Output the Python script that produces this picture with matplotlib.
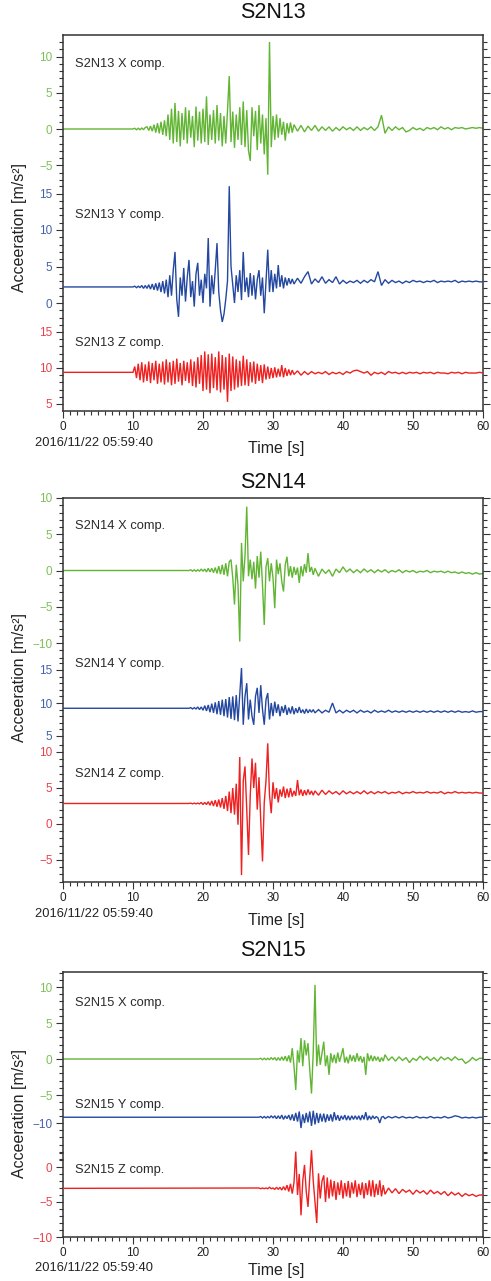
import matplotlib
matplotlib.use('Agg')
import matplotlib.pyplot as plt
import numpy as np
from matplotlib.ticker import FixedLocator

plt.rcParams['font.family'] = ['Liberation Sans', 'DejaVu Sans']

# ---------------- data ----------------
stations = ['S2N13', 'S2N14', 'S2N15']
components = ['X', 'Y', 'Z']
start_time = '2016/11/22 05:59:40'
x_ticks = [0, 10, 20, 30, 40, 50, 60]
dt_fast = 0.25
dt_slow = 0.5

# S2N13 (fast part starts 10.0 s, coda starts 33.0 s)
s13_t_fast, s13_t_slow = 10.0, 33.0
s13_x_base = 0.0
s13_x_fast = [0, 0.1, -0.1, 0.1, -0.1, 0.15, -0.1, 0.2,
              0.3, -0.2, 0.4, -0.3, 0.6, -0.5, 0.8, -0.6,
              1.0, -0.8, 1.2, -1.0, 2.0, -1.5, 2.8, -2.0,
              3.6, -1.8, 2.5, -2.4, 2.2, -1.5, 3.0, -2.0,
              2.6, -1.2, 1.8, -2.5, 3.1, -1.6, 2.4, -2.0,
              2.8, -1.8, 4.5, -2.2, 2.0, -1.5, 2.6, -2.0,
              3.3, -1.6, 2.2, -2.4, 1.8, -2.0, 2.5, 7.3,
              -1.8, 2.4, -2.6, 2.0, -1.5, 3.0, -2.2, 3.8,
              -2.5, 2.6, -3.0, -4.4, 3.0, -1.0, 2.5, -2.9,
              3.3, -2.0, 2.0, -3.5, 1.5, -6.3, 12.0, -2.5,
              1.8, -1.5, 2.0, -1.2, 1.5, -0.8, 1.0, -1.6,
              0.8, -0.6, 0.9, -0.5]
s13_x_slow = [0.6, -0.3, 0.5, -0.4, 0.4, -0.2, 0.5, -0.3,
              0.3, -0.2, 0.3, -0.3, 0.2, -0.2, 0.3, -0.1,
              0.2, -0.2, 0.3, -0.2, 0.2, -0.1, 0.3, -0.2,
              0.3, 1.9, -0.6, 0.3, -0.2, 0.3, -0.1, 0.2,
              -0.4, -0.2, 0.2, -0.1, 0.1, -0.2, 0.2, 0.0,
              0.2, -0.1, 0.3, 0.0, 0.2, -0.1, 0.2, 0.1,
              0.2, 0.0, 0.1, 0.2, 0.1, 0.2, 0.1]
s13_y_base = 2.2
s13_y_fast = [2.2, 2.3, 2.1, 2.3, 2.1, 2.4, 2.0, 2.4,
              2.0, 2.5, 1.9, 2.6, 1.8, 2.7, 1.7, 2.8,
              1.5, 3.0, 1.3, 3.2, 0.8, 3.8, 1.0, 4.5,
              7.0, 0.5, -1.9, 3.5, 1.0, 4.8, 0.2, 3.5,
              5.9, 0.8, 3.0, -0.5, 4.0, 5.5, 1.0, 3.2,
              0.0, 4.0, 2.0, 8.9, -0.5, 3.8, 1.2, 4.5,
              8.2, 1.5, -1.0, -2.6, -1.5, 0.5, 3.0, 16.0,
              5.0, 2.5, 0.0, 3.8, 1.5, 4.5, 0.4, 7.0,
              1.5, 3.5, 0.8, 4.1, 1.0, 3.8, 0.5, 3.2,
              4.5, 1.0, 3.5, -1.4, 3.0, 7.3, 1.5, 4.5,
              1.5, 4.0, 2.0, 5.2, 2.2, 3.8, 2.0, 3.5,
              2.4, 3.4, 2.6, 3.3]
s13_y_slow = [2.6, 3.4, 2.7, 3.6, 4.3, 2.6, 3.3, 2.8,
              3.6, 2.7, 3.2, 2.8, 3.6, 2.6, 3.1, 2.7,
              3.0, 2.8, 3.1, 2.7, 3.1, 2.8, 3.2, 2.9,
              4.3, 2.4, 3.2, 2.7, 3.1, 2.8, 3.0, 2.7,
              3.0, 2.8, 3.1, 2.9, 3.0, 2.8, 3.0, 2.9,
              3.1, 2.8, 3.0, 2.9, 3.0, 2.9, 3.1, 2.8,
              3.0, 2.9, 3.0, 2.9, 3.0, 2.9, 2.9]
s13_z_base = 9.4
s13_z_fast = [9.4, 10.2, 8.6, 10.6, 8.3, 10.8, 8.0, 10.5,
              8.2, 10.9, 7.9, 10.7, 8.3, 11.0, 7.8, 10.6,
              8.0, 10.9, 7.7, 11.2, 8.0, 10.8, 7.6, 11.0,
              7.8, 11.3, 8.1, 10.7, 7.6, 11.0, 8.2, 10.8,
              7.9, 11.2, 7.5, 10.9, 7.3, 11.5, 7.8, 11.8,
              6.8, 12.3, 7.0, 11.9, 6.5, 12.0, 7.2, 11.5,
              6.9, 12.3, 6.6, 11.8, 7.0, 11.5, 5.3, 12.0,
              6.8, 11.6, 7.0, 11.2, 7.3, 11.0, 7.5, 11.7,
              7.6, 11.2, 7.5, 10.8, 8.0, 10.9, 7.8, 10.6,
              8.2, 10.4, 7.9, 10.5, 8.4, 10.2, 8.5, 10.0,
              8.6, 10.1, 8.7, 9.9, 8.8, 10.4, 8.7, 10.0,
              8.9, 9.8, 9.0, 9.7]
s13_z_slow = [9.1, 9.6, 9.0, 9.5, 9.1, 9.5, 9.2, 9.4,
              9.2, 9.5, 9.1, 9.4, 9.2, 9.4, 9.1, 9.5,
              9.3, 9.6, 9.7, 9.5, 9.3, 9.5, 9.0, 9.4,
              9.2, 9.4, 9.1, 9.5, 9.3, 9.4, 9.2, 9.4,
              9.2, 9.4, 9.3, 9.4, 9.2, 9.4, 9.3, 9.4,
              9.2, 9.4, 9.3, 9.3, 9.2, 9.4, 9.3, 9.4,
              9.2, 9.4, 9.3, 9.3, 9.3, 9.4, 9.3]

# S2N14 (fast part starts 18.0 s, coda starts 36.0 s)
s14_t_fast, s14_t_slow = 18.0, 36.0
s14_x_base = 0.0
s14_x_fast = [0.0, 0.1, -0.1, 0.1, -0.1, 0.1, -0.1, 0.2,
              -0.1, 0.2, -0.2, 0.3, -0.2, 0.3, -0.3, 0.4,
              -0.4, 0.6, -0.5, 0.8, -0.6, 1.0, -0.8, 1.2,
              1.5, -1.0, -4.7, 0.8, -2.0, -9.8, 3.8, -1.5,
              2.0, 8.8, -0.8, 1.5, -1.2, 1.2, -2.5, 2.0,
              -1.0, 2.6, -2.0, -7.5, 0.5, 1.7, -1.5, 1.0,
              -1.0, -5.2, 1.5, -0.5, 1.0, -1.5, -2.9, 0.8,
              1.9, -0.8, 0.6, -1.0, 0.5, -0.6, 0.4, -1.7,
              0.6, -0.8, 0.9, -0.3, 2.4, -0.2, 0.5, -0.6]
s14_x_slow = [0.3, -0.8, 0.2, -0.4, 0.1, -0.8, 0.2, -0.3,
              0.5, -0.2, 0.2, -0.3, 0.1, -0.3, 0.2, -0.2,
              0.1, -0.3, 0.1, -0.2, 0.1, -0.3, 0.0, -0.2,
              0.1, -0.3, 0.0, -0.2, 0.0, -0.3, -0.1, -0.2,
              0.0, -0.3, -0.1, -0.2, -0.1, -0.3, -0.1, -0.3,
              -0.2, -0.4, -0.2, -0.4, -0.3, -0.5, -0.3, -0.5,
              -0.4]
s14_y_base = 9.2
s14_y_fast = [9.2, 9.3, 9.1, 9.3, 9.1, 9.4, 9.0, 9.4,
              8.9, 9.6, 8.8, 9.7, 8.6, 9.9, 8.5, 10.1,
              8.3, 10.3, 8.2, 10.5, 8.0, 10.6, 7.8, 10.9,
              7.6, 11.0, 7.4, 11.2, 7.2, 11.3, 15.3, 6.7,
              11.0, 13.0, 7.5, 10.5, 8.0, 6.7, 11.0, 12.3,
              8.5, 12.7, 9.0, 6.7, 10.5, 11.5, 7.5, 10.0,
              8.0, 10.2, 8.5, 9.8, 8.0, 9.5, 8.5, 9.7,
              8.2, 9.3, 8.4, 9.5, 8.3, 9.2, 8.5, 9.4,
              8.5, 9.0, 8.4, 9.1, 8.5, 9.0, 8.6, 9.0]
s14_y_slow = [8.5, 9.0, 8.5, 8.9, 8.6, 10.0, 8.5, 8.9,
              8.5, 8.9, 8.6, 8.9, 8.5, 8.9, 8.6, 8.8,
              8.5, 8.9, 8.6, 8.8, 8.6, 8.9, 8.6, 8.8,
              8.6, 8.8, 8.6, 8.8, 8.6, 8.8, 8.6, 8.8,
              8.6, 8.8, 8.6, 8.8, 8.6, 8.8, 8.6, 8.8,
              8.6, 8.8, 8.6, 8.7, 8.6, 8.8, 8.6, 8.7,
              8.7]
s14_z_base = 2.85
s14_z_fast = [2.85, 2.9, 2.8, 2.9, 2.8, 2.9, 2.8, 3.0,
              2.7, 3.0, 2.7, 3.1, 2.6, 3.2, 2.5, 3.3,
              2.4, 3.4, 2.3, 3.6, 2.1, 3.9, 1.8, 4.5,
              1.5, 5.0, 1.3, 5.6, -0.1, 9.3, -7.1, 6.0,
              8.0, 2.0, -4.3, 4.0, 9.1, 5.0, 8.5, 2.0,
              6.5, 0.5, -5.2, 3.0, 6.0, 11.2, 4.0, 1.5,
              5.8, 3.5, 5.0, 3.0, 4.8, 3.8, 5.2, 3.6,
              4.9, 3.7, 5.0, 3.8, 4.6, 3.9, 6.1, 4.0,
              4.8, 3.9, 4.7, 4.0, 4.8, 4.1, 4.6, 4.0]
s14_z_slow = [4.6, 4.0, 4.7, 4.1, 4.6, 4.2, 4.5, 4.1,
              4.6, 4.2, 4.5, 4.2, 4.5, 4.2, 4.6, 4.2,
              4.5, 4.2, 4.5, 4.3, 4.5, 4.2, 4.4, 4.3,
              4.5, 4.2, 4.4, 4.3, 4.5, 4.3, 4.4, 4.3,
              4.5, 4.3, 4.4, 4.3, 4.5, 4.2, 4.4, 4.3,
              4.5, 4.3, 4.4, 4.3, 4.4, 4.3, 4.4, 4.3,
              4.3]

# S2N15 (fast part starts 28.0 s, coda starts 46.0 s)
s15_t_fast, s15_t_slow = 28.0, 46.0
s15_x_base = 0.0
s15_x_fast = [0.0, 0.1, -0.1, 0.1, -0.1, 0.1, -0.1, 0.2,
              -0.1, 0.2, -0.2, 0.2, -0.2, 0.3, -0.2, 0.4,
              -0.3, 0.5, -0.5, 1.5, -1.0, -4.3, 1.2, -0.5,
              2.9, -1.0, 2.6, 0.5, 2.2, -1.5, -4.8, 1.0,
              10.3, -1.0, 2.0, -0.8, 0.8, 2.4, -1.0, 0.5,
              -2.2, 0.8, -0.5, 0.6, -0.6, 0.9, -0.4, 0.5,
              1.5, -0.5, 0.3, -0.6, 0.6, -0.3, 0.5, -0.4,
              0.8, -0.3, 0.4, -0.5, 0.3, -2.2, 0.8, -0.3,
              0.5, -0.3, 0.4, -0.2, 0.3, -0.4, 0.2, -0.3]
s15_x_slow = [0.6, -0.2, 0.3, -0.3, 0.3, -0.2, 0.2, -0.5,
              0.1, -0.2, 0.4, -0.1, 0.3, -0.2, 0.2, -0.3,
              0.3, -0.1, 0.2, -0.2, 0.3, -0.1, 0.0, -0.6,
              -0.3, 0.2, -0.2, 0.1, 0.1]
s15_y_base = -9.2
s15_y_fast = [-9.2, -9.1, -9.3, -9.1, -9.3, -9.1, -9.3, -9.0,
              -9.3, -9.0, -9.4, -9.0, -9.4, -8.9, -9.5, -9.0,
              -9.4, -8.9, -9.6, -8.8, -9.7, -8.6, -9.8, -8.4,
              -10.7, -8.8, -10.0, -8.6, -9.9, -8.4, -10.4, -8.3,
              -10.2, -8.6, -10.0, -8.7, -9.8, -8.7, -9.9, -8.8,
              -9.7, -8.8, -9.8, -8.5, -9.6, -8.9, -9.7, -9.0,
              -9.5, -8.9, -9.6, -9.0, -9.6, -9.0, -9.5, -9.0,
              -9.5, -9.0, -9.6, -8.9, -9.5, -8.5, -9.6, -9.0,
              -9.5, -9.0, -9.4, -9.1, -9.3, -10.0, -9.2, -9.1]
s15_y_slow = [-9.4, -9.1, -9.3, -9.1, -9.3, -9.1, -9.3, -9.2,
              -9.3, -9.1, -9.3, -9.2, -9.3, -9.1, -9.3, -9.2,
              -9.3, -9.1, -9.3, -9.2, -9.0, -9.1, -9.3, -9.2,
              -9.3, -9.2, -9.3, -9.2, -9.2]
s15_z_base = -3.05
s15_z_fast = [-3.0, -3.1, -3.0, -3.1, -3.0, -3.1, -2.9, -3.1,
              -3.0, -3.2, -2.9, -3.2, -2.9, -3.3, -2.8, -3.3,
              -2.6, -3.5, -2.4, -3.8, -2.2, 2.2, -4.0, -1.0,
              -6.9, -2.0, 0.3, -3.5, -5.7, -1.5, 2.4, -2.0,
              -5.0, -8.0, -0.9, -4.5, -2.0, -1.2, -5.0, -1.5,
              -4.5, -1.8, -4.2, -2.0, -4.7, -2.2, -4.0, -1.9,
              -4.5, -2.3, -4.2, -2.0, -4.4, -2.2, -3.8, -1.9,
              -4.3, -2.4, -4.0, -2.2, -4.5, -2.3, -4.0, -1.9,
              -4.2, -1.9, -4.3, -2.4, -4.0, -1.9, -4.2, -2.6]
s15_z_slow = [-3.9, -3.0, -3.7, -3.1, -3.8, -3.2, -3.6, -3.3,
              -3.9, -3.3, -3.7, -3.4, -3.9, -3.3, -3.8, -3.5,
              -3.9, -3.5, -4.1, -3.6, -4.0, -3.7, -4.2, -3.8,
              -4.1, -3.9, -4.2, -4.0, -4.0]

traces = {
    'S2N13': (s13_t_fast, s13_t_slow,
              [(s13_x_base, s13_x_fast, s13_x_slow),
               (s13_y_base, s13_y_fast, s13_y_slow),
               (s13_z_base, s13_z_fast, s13_z_slow)]),
    'S2N14': (s14_t_fast, s14_t_slow,
              [(s14_x_base, s14_x_fast, s14_x_slow),
               (s14_y_base, s14_y_fast, s14_y_slow),
               (s14_z_base, s14_z_fast, s14_z_slow)]),
    'S2N15': (s15_t_fast, s15_t_slow,
              [(s15_x_base, s15_x_fast, s15_x_slow),
               (s15_y_base, s15_y_fast, s15_y_slow),
               (s15_z_base, s15_z_fast, s15_z_slow)]),
}

# tick labels of each component scale
ticks13 = [[10, 5, 0, -5], [15, 10, 5, 0], [15, 10, 5]]
ticks14 = [[10, 5, 0, -5, -10], [15, 10, 5], [10, 5, 0, -5]]
ticks15 = [[10, 5, 0, -5], [-10], [0, -5, -10]]
ticks_all = {'S2N13': ticks13, 'S2N14': ticks14, 'S2N15': ticks15}

# ---------------- layout / style ----------------
W, H = 491, 1281
fig = plt.figure(figsize=(W / 100, H / 100), dpi=100)

line_colors = ['#62b534', '#2448a0', '#ee2020']
label_colors = ['#7fbf5a', '#4561a8', '#e8424c']
spine_color = '#333333'

# pixel layout: (top, bottom), per comp (ref value, ref pixel, px per unit),
# minor tick ranges, component label y centres, title y, text offsets
layout = {
    'S2N13': dict(top=35, bottom=411,
                  scale=[(0, 129, 7.25), (0, 303, 7.3), (10, 368, 7.2)],
                  minor=[(-7, 12), (-1, 16), (4, 17)],
                  lab=[64, 215, 343], title=13, ylab=228,
                  date_off=32, time_off=38),
    'S2N14': dict(top=498, bottom=882,
                  scale=[(10, 498, 7.25), (10, 703, 6.6), (0, 824, 7.2)],
                  minor=[(-12, 10), (5, 16), (-8, 11)],
                  lab=[526, 664, 774], title=482, ylab=678,
                  date_off=32, time_off=38),
    'S2N15': dict(top=972, bottom=1237,
                  scale=[(0, 1059, 7.2), (-10, 1123, 7.2), (0, 1167, 7.0)],
                  minor=[(-6, 12), (-15, -8), (-10, 2)],
                  lab=[1003, 1105, 1170], title=950, ylab=1114,
                  date_off=31, time_off=33),
}
L, R = 63, 483


def fx(px):
    return px / W


def fy(py):
    return 1 - py / H


for st in stations:
    lay = layout[st]
    top, bot = lay['top'], lay['bottom']
    rect = [fx(L), fy(bot), fx(R) - fx(L), (bot - top) / H]
    t_f0, t_s0, comps = traces[st]
    for k, comp in enumerate(components):
        ax = fig.add_axes(rect, label=f'{st}{comp}')
        vref, pref, ppu = lay['scale'][k]
        ax.set_ylim(vref - (bot - pref) / ppu, vref + (pref - top) / ppu)
        ax.set_xlim(0, 60)
        base, fast, slow = comps[k]
        t = np.concatenate([[0.0],
                            t_f0 + dt_fast * np.arange(len(fast)),
                            t_s0 + dt_slow * np.arange(len(slow))])
        v = np.concatenate([[base], fast, slow])
        ax.plot(t, v, color=line_colors[k], lw=1.0, solid_joinstyle='miter')

        ax.yaxis.set_major_locator(FixedLocator(ticks_all[st][k]))
        lo, hi = lay['minor'][k]
        ax.yaxis.set_minor_locator(FixedLocator(list(range(lo, hi + 1))))
        ax.tick_params(axis='y', which='both', direction='out', left=True,
                       right=True, labelleft=True, labelright=False,
                       colors=spine_color, labelcolor=label_colors[k],
                       labelsize=8.5, pad=2.5, width=0.8)
        ax.tick_params(axis='y', which='major', length=5)
        ax.tick_params(axis='y', which='minor', length=3)
        for lab in ax.get_yticklabels():
            lab.set_color(label_colors[k])

        if k == 0:
            ax.xaxis.set_major_locator(FixedLocator(x_ticks))
            ax.xaxis.set_minor_locator(FixedLocator(list(range(0, 61))))
            ax.tick_params(axis='x', which='both', direction='out',
                           top=False, colors=spine_color,
                           labelcolor='#222222', labelsize=8.5, pad=2,
                           width=0.8)
            ax.tick_params(axis='x', which='major', length=5)
            ax.tick_params(axis='x', which='minor', length=3)
            for s in ax.spines.values():
                s.set_color(spine_color)
                s.set_linewidth(1.1)
        else:
            ax.patch.set_visible(False)
            for s in ax.spines.values():
                s.set_visible(False)
            ax.tick_params(axis='x', which='both', bottom=False,
                           labelbottom=False)

        ax.text(fx(75), fy(lay['lab'][k]), f'{st} {comp} comp.',
                transform=fig.transFigure, fontsize=9.3, color='#2a2a2a',
                ha='left', va='center')

    fig.text(fx(273), fy(lay['title']), st, fontsize=15.5, color='#111111',
             ha='center', va='center')
    fig.text(fx(20), fy(lay['ylab']), 'Acceeration [m/s²]', fontsize=11.5,
             rotation=90, ha='center', va='center', color='#222222')
    fig.text(fx(35), fy(bot + lay['date_off']), start_time, fontsize=9.3,
             ha='left', va='center', color='#222222')
    fig.text(fx(276), fy(bot + lay['time_off']), 'Time [s]', fontsize=11.5,
             ha='center', va='center', color='#222222')

fig.savefig('out.png', dpi=100, facecolor='white')
